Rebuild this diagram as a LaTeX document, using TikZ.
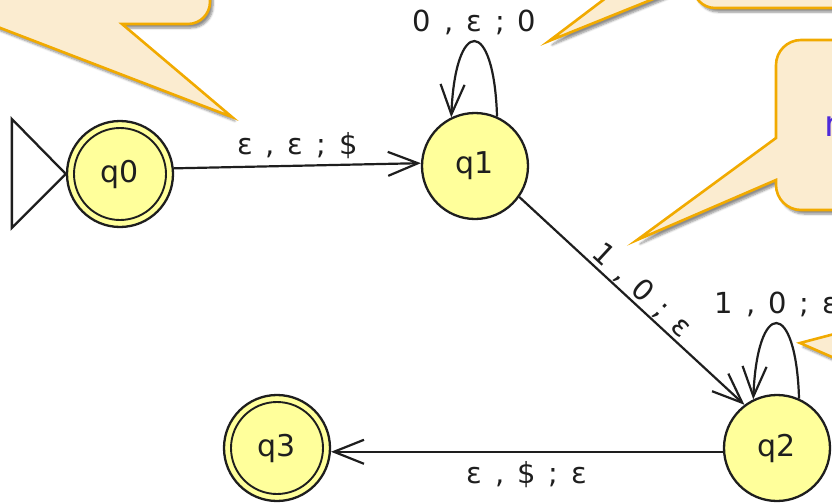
\documentclass[tikz,border=0pt]{standalone}
\usepackage{fontspec}
\setmainfont{DejaVu Sans}
\newfontfamily\lblfont[WordSpace=1.4]{DejaVu Sans}
\usetikzlibrary{arrows.meta,shadows.blur}

\definecolor{statefill}{RGB}{255,255,155}
\definecolor{callfill}{RGB}{251,236,208}
\definecolor{callborder}{RGB}{241,170,0}
\definecolor{hintblue}{RGB}{78,42,218}
\definecolor{ink}{RGB}{30,30,30}

\begin{document}
\begin{tikzpicture}[x=1pt,y=-1pt,
  pdastate/.style={circle, draw=ink, line width=2.3pt, fill=statefill,
    minimum size=106pt, inner sep=0pt, text=ink, font=\fontsize{30}{32}\selectfont},
  trans/.style={draw=ink, line width=2.2pt, -{Straight Barb[length=30pt,width=24pt]}},
  lbl/.style={font=\lblfont\fontsize{29}{32}\selectfont, text=ink, inner sep=0pt},
  callout/.style={draw=callborder, line width=2.6pt, fill=callfill,
    blur shadow={shadow xshift=3pt, shadow yshift=-4pt,
      shadow blur steps=6, shadow opacity=45}}]

\useasboundingbox (0,0) rectangle (832,503);
\clip (0,0) rectangle (832,503);

% speech bubbles, partly outside the frame
\path[callout] (-100,-100) -- (210,-100) -- (210,2)
  .. controls (210,14.1) and (200.1,24) .. (188,24)
  -- (122,24) -- (232,117) -- (-10,24) -- (-100,24) -- cycle;
\path[callout] (693,-200) -- (693,-68) -- (549,41) -- (693,-17) -- (693,-14)
  .. controls (693,-1.9) and (702.9,8) .. (715,8)
  -- (900,8) -- (900,-200) -- cycle;
\path[callout] (900,40) -- (801,40)
  .. controls (787.2,40) and (776,51.2) .. (776,65)
  -- (776,138) -- (637,240) -- (776,180) -- (776,185)
  .. controls (776,198.8) and (787.2,210) .. (801,210)
  -- (900,210) -- cycle;
\path[callout] (800,343) -- (880,322) -- (880,378) -- cycle;
\node[font=\fontsize{36}{40}\selectfont, text=hintblue, anchor=west,
  inner sep=0pt] (hint) at (824,126) {n};

% states
\node[pdastate] (q0) at (120,174) {q0};
\node[pdastate] (q1) at (475,166) {q1};
\node[pdastate] (q2) at (777,448) {q2};
\node[pdastate] (q3) at (277,448) {q3};
\draw[draw=ink, line width=1.9pt] (q0.center) circle[radius=46];
\draw[draw=ink, line width=1.9pt] (q3.center) circle[radius=46];

% start marker
\draw[draw=ink, line width=2.3pt, line join=miter] (q0.west) -- ++(-54,-55) -- ++(0,109) -- cycle;

% transitions
\draw[trans] (q0.6) -- node[lbl, above=6pt] {ε , ε ; \$} (q1.177);
\draw[trans] (q1.-35) -- node[lbl, sloped, above=1pt] {1 , 0 ; ε} (q2.127);
\draw[trans] (q2.184) -- node[lbl, below=9pt] {ε , \$ ; ε} (q3.356);
\draw[trans] (q1.66) .. controls +(-3,-100) and +(4,-101) .. (q1.116)
  node[lbl, pos=0.5, above=6pt] {0 , ε ; 0};
\draw[trans] (q2.66) .. controls +(-3,-100) and +(4,-101) .. (q2.116)
  node[lbl, pos=0.5, above=6pt] {1 , 0 ; ε};
\end{tikzpicture}
\end{document}
